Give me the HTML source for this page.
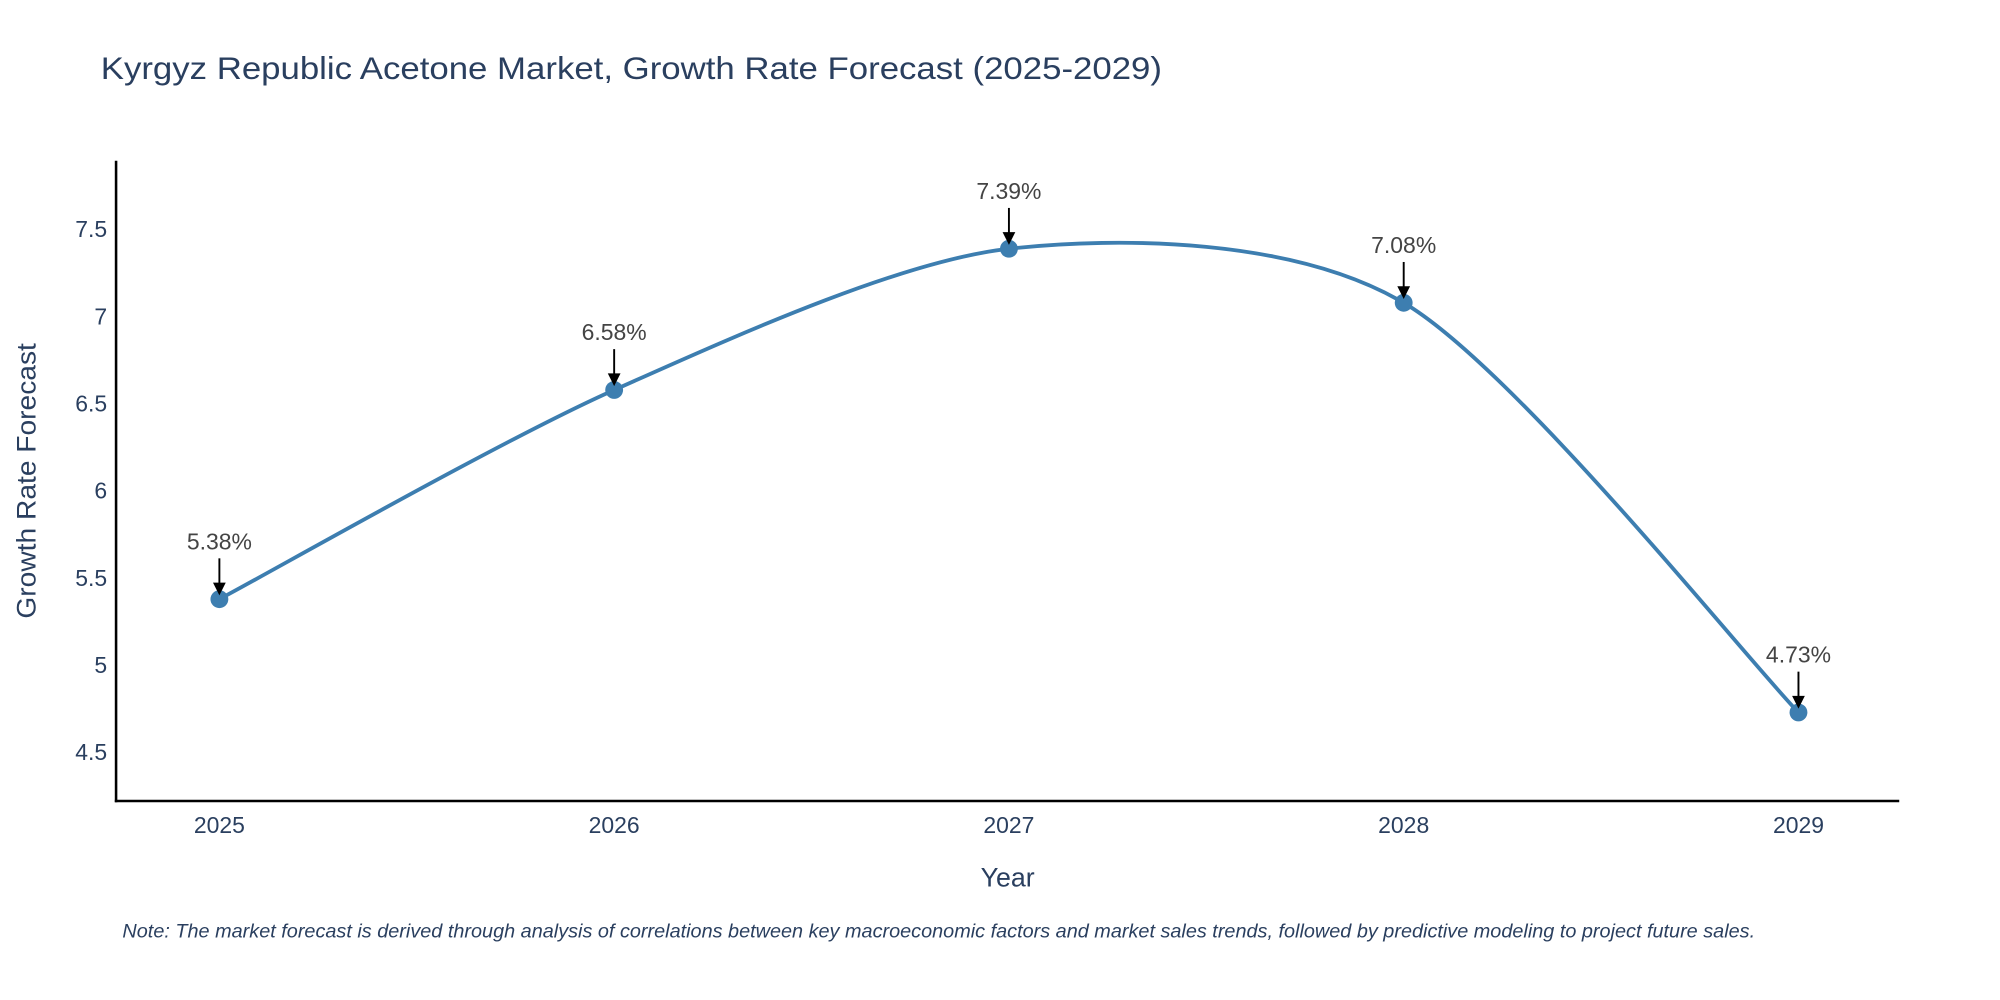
<!DOCTYPE html>
<html><head><meta charset="utf-8"><style>
html,body{margin:0;padding:0;background:#fff;}
svg{display:block;font-family:"Liberation Sans",sans-serif;}
</style></head><body>
<svg width="2000" height="1000" viewBox="0 0 1568 784" xmlns="http://www.w3.org/2000/svg">
<text x="79" y="62" font-size="25" fill="#2a3f5f" textLength="832" lengthAdjust="spacingAndGlyphs">Kyrgyz Republic Acetone Market, Growth Rate Forecast (2025-2029)</text>
<g id="yticks"></g>
<g id="xticks"></g>
<line x1="91" y1="126" x2="91" y2="629" stroke="#000" stroke-width="2"/>
<line x1="90" y1="628" x2="1489" y2="628" stroke="#000" stroke-width="2"/>
<path id="line" fill="none" stroke="#3d7eb0" stroke-width="3"/>
<g id="marks"></g>
<text transform="translate(28,377) rotate(-90)" text-anchor="middle" font-size="21" fill="#2a3f5f" textLength="216" lengthAdjust="spacingAndGlyphs">Growth Rate Forecast</text>
<text x="790" y="695" text-anchor="middle" font-size="21" fill="#2a3f5f">Year</text>
<text x="96" y="735" font-size="15" font-style="italic" fill="#2a3f5f" textLength="1280" lengthAdjust="spacingAndGlyphs">Note: The market forecast is derived through analysis of correlations between key macroeconomic factors and market sales trends, followed by predictive modeling to project future sales.</text>
</svg>
<script>
const years=[2025,2026,2027,2028,2029];
const values=[5.38,6.58,7.39,7.08,4.73];
const labels=["5.38%","6.58%","7.39%","7.08%","4.73%"];
const yTicks=[4.5,5,5.5,6,6.5,7,7.5];
const yTickLabels=["4.5","5","5.5","6","6.5","7","7.5"];
const NS="http://www.w3.org/2000/svg";
function xs(v){return 172+(v-2025)*309.5;}
function ys(v){return 590-(v-4.5)*136.67;}
function mk(t,a,p){const e=document.createElementNS(NS,t);for(const k in a)e.setAttribute(k,a[k]);p.appendChild(e);return e;}
const yt=document.getElementById('yticks');
yTicks.forEach((v,i)=>{const t=mk('text',{x:84,y:ys(v)+6,'text-anchor':'end','font-size':18,fill:'#2a3f5f'},yt);


t.textContent=yTickLabels[i];});
const xt=document.getElementById('xticks');
years.forEach(y=>{const t=mk('text',{x:xs(y),y:653,'text-anchor':'middle','font-size':18,fill:'#2a3f5f'},xt);


t.textContent=y;});
const P=years.map((y,i)=>[xs(y),ys(values[i])]);
const k=0.14;
let d='M'+P[0][0]+','+P[0][1];
for(let i=0;i<P.length-1;i++){
 const p0=P[Math.max(i-1,0)],p1=P[i],p2=P[i+1],p3=P[Math.min(i+2,P.length-1)];
 const c1=[p1[0]+(p2[0]-p0[0])*k,p1[1]+(p2[1]-p0[1])*k];
 const c2=[p2[0]-(p3[0]-p1[0])*k,p2[1]-(p3[1]-p1[1])*k];
 d+=` C${c1[0]},${c1[1]} ${c2[0]},${c2[1]} ${p2[0]},${p2[1]}`;
}
document.getElementById('line').setAttribute('d',d);
const g=document.getElementById('marks');
P.forEach((p,i)=>{
 const c=mk('circle',{cx:p[0],cy:p[1],r:7,fill:'#3d7eb0'},g);
 
 
 const l=mk('line',{x1:p[0],y1:p[1]-32,x2:p[0],y2:p[1]-12,stroke:'#000','stroke-width':1.5},g);
 
 
 const a=mk('polygon',{points:`${p[0]-5},${p[1]-13} ${p[0]+5},${p[1]-13} ${p[0]},${p[1]-3}`,fill:'#000'},g);
 
 
 const t=mk('text',{x:p[0],y:p[1]-39,'text-anchor':'middle','font-size':18,fill:'#444'},g);
 
 
 t.textContent=labels[i];
});
</script>
</body></html>
